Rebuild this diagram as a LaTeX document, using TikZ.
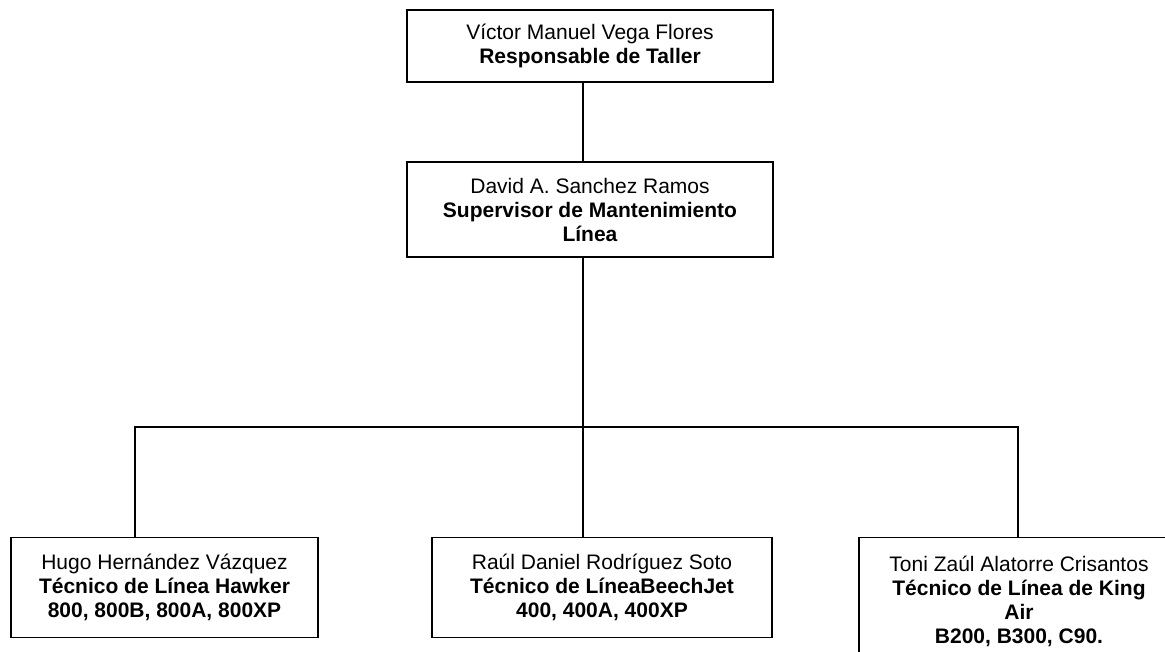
\documentclass[tikz,border=0pt]{standalone}
\usepackage{fontspec}
\setmainfont{Liberation Sans}
\usepackage{tikz}
\usetikzlibrary{positioning, calc}
\tikzset{
    cargo/.style={
        shape=rectangle,
        draw=black,
        line width=1.1pt,
        fill=white,
        align=center,
        inner xsep=0pt,
        inner ysep=10.5pt,
        minimum width=#1,
        font=\fontsize{15.75}{18}\selectfont
    },
    liga/.style={draw=black, line width=1.1pt}
}

\begin{document}
\begin{tikzpicture}[x=0.75pt, y=-0.75pt]
\useasboundingbox (0,0) rectangle (1165,651);

% Jefatura
\node[cargo=274.5pt, minimum height=51pt] (n_resp) at (590,46) {Víctor Manuel Vega Flores\\\textbf{Responsable de Taller}};
\node[cargo=274.5pt, minimum height=71.25pt] (n_sup) at (590,209.5) {David A. Sanchez Ramos\\\textbf{Supervisor de Mantenimiento}\\\textbf{Línea}};

% Tecnicos
\node[cargo=230.25pt, minimum height=75pt, anchor=north] (n_hugo) at (164.5,537) {Hugo Hernández Vázquez\\\textbf{Técnico de Línea Hawker}\\\textbf{800, 800B, 800A, 800XP}};
\node[cargo=255pt, minimum height=75pt, anchor=north] (n_raul) at (602,537) {Raúl Daniel Rodríguez Soto\\\textbf{Técnico de LíneaBeechJet}\\\textbf{400, 400A, 400XP}};
\node[cargo=240pt, minimum height=75pt, inner ysep=13.5pt, anchor=north] (n_toni) at (1019,537) {Toni Zaúl Alatorre Crisantos\\\textbf{Técnico de Línea de King}\\\textbf{Air}\\\textbf{B200, B300, C90.}};

% Lineas
\coordinate (tronco) at (583,427);
\coordinate (rama_izq) at (135,427);
\coordinate (rama_der) at (1018,427);

\draw[liga] (n_resp.south -| tronco) -- (n_sup.north -| tronco);
\draw[liga] (n_sup.south -| tronco) -- (tronco);
\draw[liga] (n_hugo.north -| rama_izq) -- (rama_izq) -- (rama_der) -- (n_toni.north -| rama_der);
\draw[liga] (tronco) -- (n_raul.north -| tronco);

\end{tikzpicture}
\end{document}
